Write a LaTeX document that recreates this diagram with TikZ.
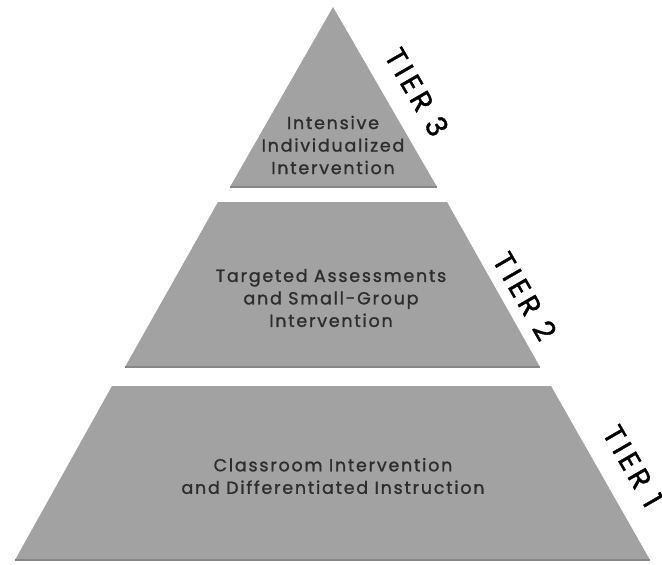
\documentclass[tikz,border=0pt]{standalone}
\usepackage{fontspec}
\setmainfont{Poppins}
\newfontfamily\tierfont[LetterSpace=14,FakeBold=1.2]{Poppins}
\newfontfamily\bodyfont[LetterSpace=10,FakeBold=1.2]{Poppins}
\definecolor{tiergray}{RGB}{162,162,162}
\definecolor{edgegray}{RGB}{135,135,135}
\definecolor{textgray}{RGB}{45,45,45}
\tikzset{
  tierfill/.style={fill=tiergray},
  baseline edge/.style={draw=edgegray, line width=1.5pt},
  bodytext/.style={align=center, text=textgray, inner sep=0pt,
    font=\bodyfont\fontsize{17.5}{22.5}\selectfont},
  tierlabel/.style={rotate=-60, text=black, inner sep=0pt,
    font=\tierfont\fontsize{29}{29}\selectfont}
}
\begin{document}
\begin{tikzpicture}[x=1pt,y=-1pt]
\useasboundingbox (0,0) rectangle (662,565);
\fill[white] (0,0) rectangle (662,565);
% tier 3
\coordinate (apex) at (333,7);
\coordinate (t3r) at (437,187);
\coordinate (t3l) at (230,187);
\path[tierfill] (apex) -- (t3r) -- (t3l) -- cycle;
\draw[baseline edge] (t3l) -- (t3r);
% tier 2
\coordinate (t2tl) at (218,202);
\coordinate (t2tr) at (447,202);
\coordinate (t2br) at (540,367);
\coordinate (t2bl) at (125,367);
\path[tierfill] (t2tl) -- (t2tr) -- (t2br) -- (t2bl) -- cycle;
\draw[baseline edge] (t2bl) -- (t2br);
% tier 1
\coordinate (t1tl) at (112,386);
\coordinate (t1tr) at (551,386);
\coordinate (t1br) at (650,560);
\coordinate (t1bl) at (15,560);
\path[tierfill] (t1tl) -- (t1tr) -- (t1br) -- (t1bl) -- cycle;
\draw[baseline edge] (t1bl) -- (t1br);
% texts
\node[bodytext] (txt3) at (333,145) {Intensive\\Individualized\\Intervention};
\node[bodytext] (txt2) at (331,298) {Targeted Assessments\\and Small-Group\\Intervention};
\node[bodytext] (txt1) at (333,476) {Classroom Intervention\\and Differentiated Instruction};
\node[tierlabel] (lab3) at (417,92) {TIER 3};
\node[tierlabel] (lab2) at (525,296) {TIER 2};
\node[tierlabel] (lab1) at (633,466) {TIER 1};
\end{tikzpicture}
\end{document}
